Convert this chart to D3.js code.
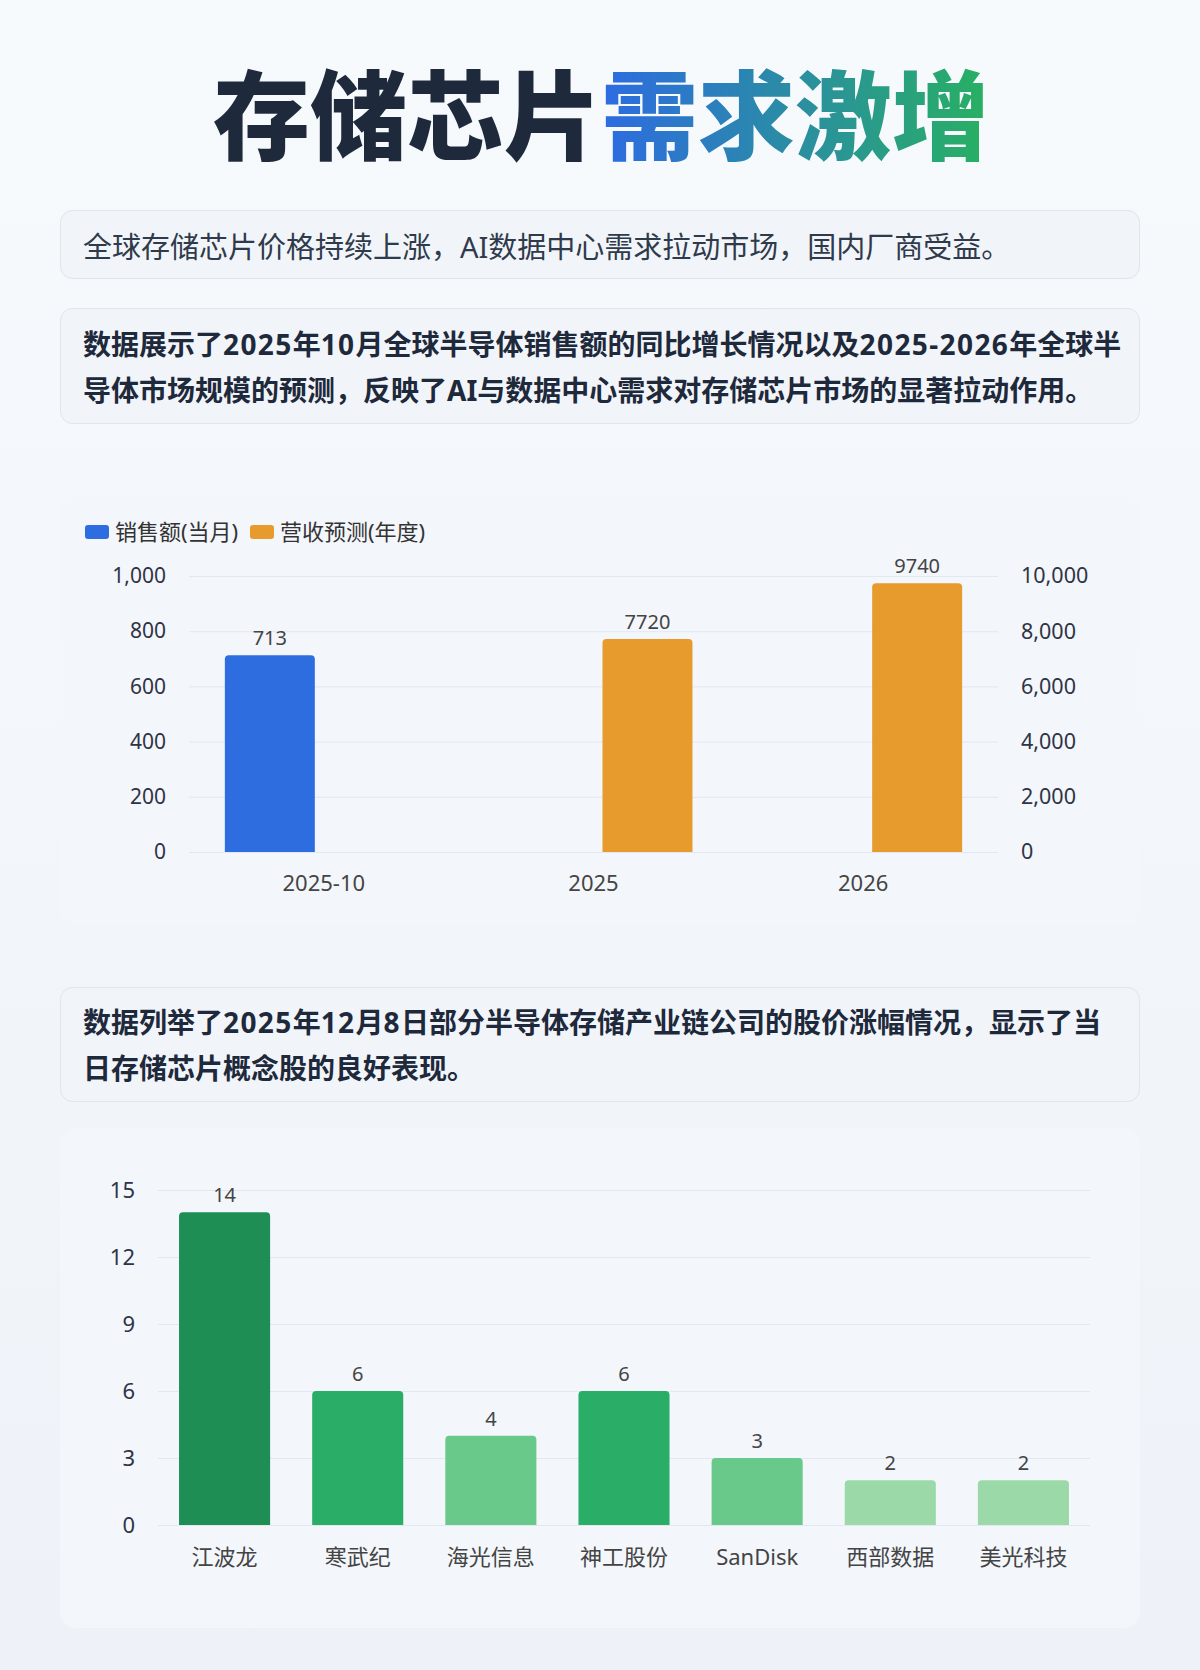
<!DOCTYPE html>
<html>
<head>
<meta charset="utf-8">
<script src="https://cdn.jsdelivr.net/npm/d3@7"></script>
<style>
  html, body { margin: 0; padding: 0; }
  body { width: 1200px; height: 1670px; overflow: hidden; font-family: "Noto Sans", "Noto Sans CJK SC", sans-serif; }
</style>
</head>
<body>
<div id="page"></div>
<script>
// ---- data ----
var titleDark = "存储芯片";
var titleAccent = "需求激增";
var summaryText = "全球存储芯片价格持续上涨，AI数据中心需求拉动市场，国内厂商受益。";
var noteOneLines = [
  "数据展示了2025年10月全球半导体销售额的同比增长情况以及2025-2026年全球半",
  "导体市场规模的预测，反映了AI与数据中心需求对存储芯片市场的显著拉动作用。"
];
var noteTwoLines = [
  "数据列举了2025年12月8日部分半导体存储产业链公司的股价涨幅情况，显示了当",
  "日存储芯片概念股的良好表现。"
];

var salesCategories = ["2025-10", "2025", "2026"];
var seriesNames = ["销售额(当月)", "营收预测(年度)"];
var monthlySales = [713, null, null];
var annualForecast = [null, 7720, 9740];
var leftTicks = [0, 200, 400, 600, 800, 1000];
var rightTicks = [0, 2000, 4000, 6000, 8000, 10000];

var companies = ["江波龙", "寒武纪", "海光信息", "神工股份", "SanDisk", "西部数据", "美光科技"];
var gains = [14, 6, 4, 6, 3, 2, 2];
var gainTicks = [0, 3, 6, 9, 12, 15];

// ---- setup ----
var width = 1200, height = 1670;
var fontStack = '"Noto Sans", "Noto Sans CJK SC", sans-serif';
var cjkStack = '"Noto Sans CJK SC", "Noto Sans", sans-serif';
var fmt = d3.format(",");

var svg = d3.select("#page").append("svg")
  .attr("width", width)
  .attr("height", height)
  .style("display", "block");

var defs = svg.append("defs");

var bg = defs.append("linearGradient").attr("id", "bg")
  .attr("x1", 0).attr("y1", 0).attr("x2", 0).attr("y2", 1);
bg.append("stop").attr("offset", "0%").attr("stop-color", "#f7fafd");
bg.append("stop").attr("offset", "100%").attr("stop-color", "#eef2f8");

var accent = defs.append("linearGradient").attr("id", "accent")
  .attr("gradientUnits", "userSpaceOnUse")
  .attr("x1", 601).attr("y1", 0).attr("x2", 988).attr("y2", 0);
accent.append("stop").attr("offset", "0%").attr("stop-color", "#2d6be2");
accent.append("stop").attr("offset", "100%").attr("stop-color", "#28b062");

svg.append("rect").attr("width", width).attr("height", height).attr("fill", "url(#bg)");

// ---- title ----
svg.append("text")
  .attr("x", 601).attr("y", 152)
  .attr("text-anchor", "end")
  .attr("font-family", cjkStack)
  .attr("font-size", 97)
  .attr("font-weight", 900)
  .attr("fill", "#1e293b")
  .text(titleDark);

svg.append("text")
  .attr("x", 601).attr("y", 152)
  .attr("text-anchor", "start")
  .attr("font-family", cjkStack)
  .attr("font-size", 97)
  .attr("font-weight", 900)
  .attr("fill", "url(#accent)")
  .text(titleAccent);

// ---- text boxes ----
function boxFrame(y, h) {
  svg.append("rect")
    .attr("x", 60.5).attr("y", y + 0.5)
    .attr("width", 1079).attr("height", h)
    .attr("rx", 12)
    .attr("fill", "#f1f5f9")
    .attr("stroke", "#dfe5ec");
}

// digits in the notes run a touch wider than the plain font
function addRuns(textSel, line) {
  var runs = line.match(/[0-9\-]+|[^0-9\-]+/g);
  runs.forEach(function(r) {
    var t = textSel.append("tspan").text(r);
    if (/^[0-9\-]+$/.test(r)) t.attr("letter-spacing", 1.4);
  });
}

boxFrame(210, 68);
svg.append("text")
  .attr("x", 83).attr("y", 258)
  .attr("font-family", fontStack)
  .attr("font-size", 29)
  .attr("fill", "#2f3a4b")
  .text(summaryText);

function noteBox(y, h, lines, firstBaseline) {
  boxFrame(y, h);
  lines.forEach(function(line, i) {
    var t = svg.append("text")
      .attr("x", 83)
      .attr("y", firstBaseline + i * 46)
      .attr("font-family", fontStack)
      .attr("font-size", 28)
      .attr("font-weight", 700)
      .attr("fill", "#1e293b");
    addRuns(t, line);
  });
}

noteBox(308, 115, noteOneLines, 355);
noteBox(987, 114, noteTwoLines, 1033);

// ---- cards ----
svg.append("rect")
  .attr("x", 60).attr("y", 495).attr("width", 1080).attr("height", 430)
  .attr("rx", 16).attr("fill", "#f3f6fb");

svg.append("rect")
  .attr("x", 60).attr("y", 1128).attr("width", 1080).attr("height", 500)
  .attr("rx", 16).attr("fill", "#f3f6fb");

function styleAxis(g, size, color) {
  g.select(".domain").remove();
  g.selectAll("text")
    .attr("font-family", fontStack)
    .attr("font-size", size)
    .attr("fill", color);
}

function topRoundedBar(x, y, w, h, r) {
  r = Math.min(r, h);
  return "M" + x + "," + (y + h) +
    "V" + (y + r) +
    "Q" + x + "," + y + " " + (x + r) + "," + y +
    "H" + (x + w - r) +
    "Q" + (x + w) + "," + y + " " + (x + w) + "," + (y + r) +
    "V" + (y + h) + "Z";
}

// ---- chart 1: sales ----
var c1 = { left: 189, right: 998, top: 576, bottom: 852 };
var salesColors = ["#2e6ddf", "#e69b2c"];

var x0 = d3.scaleBand()
  .domain(salesCategories)
  .range([c1.left, c1.right]);

var x1 = d3.scaleBand()
  .domain([0, 1])
  .range([0, x0.bandwidth()])
  .paddingInner(1 / 6)
  .paddingOuter(0.332);

var yLeft = d3.scaleLinear().domain([0, 1000]).range([c1.bottom, c1.top]);
var yRight = d3.scaleLinear().domain([0, 10000]).range([c1.bottom, c1.top]);

var leftAxis = svg.append("g")
  .attr("transform", `translate(${c1.left},0)`)
  .call(d3.axisLeft(yLeft).tickValues(leftTicks).tickFormat(fmt)
    .tickSize(-(c1.right - c1.left)).tickPadding(23));
styleAxis(leftAxis, 21, "#2e3445");
leftAxis.selectAll("line").attr("stroke", "#e2e7f1");

var rightAxis = svg.append("g")
  .attr("transform", `translate(${c1.right},0)`)
  .call(d3.axisRight(yRight).tickValues(rightTicks).tickFormat(fmt)
    .tickSize(0).tickPadding(23));
styleAxis(rightAxis, 21.5, "#2e3445");

var bottomAxis = svg.append("g")
  .attr("transform", `translate(0,${c1.bottom})`)
  .call(d3.axisBottom(x0).tickSize(0).tickPadding(23));
styleAxis(bottomAxis, 22, "#444");

var salesSeries = [
  { values: monthlySales, scale: yLeft },
  { values: annualForecast, scale: yRight }
];

salesSeries.forEach(function(s, si) {
  var pts = salesCategories
    .map((c, i) => ({ cat: c, v: s.values[i] }))
    .filter(d => d.v != null);

  var g = svg.append("g");

  g.selectAll("path")
    .data(pts)
    .enter()
    .append("path")
    .attr("fill", salesColors[si])
    .attr("d", d => {
      var bx = x0(d.cat) + x1(si);
      var by = s.scale(d.v);
      return topRoundedBar(bx, by, x1.bandwidth(), c1.bottom - by, 4);
    });

  g.selectAll("text")
    .data(pts)
    .enter()
    .append("text")
    .attr("x", d => x0(d.cat) + x1(si) + x1.bandwidth() / 2)
    .attr("y", d => s.scale(d.v) - 10)
    .attr("text-anchor", "middle")
    .attr("font-family", fontStack)
    .attr("font-size", 20)
    .attr("fill", "#444")
    .text(d => d.v);
});

// legend
var legend = svg.append("g").attr("transform", "translate(85,525)");
var legendX = [0, 165];
seriesNames.forEach(function(name, i) {
  legend.append("rect")
    .attr("x", legendX[i]).attr("y", 0)
    .attr("width", 24).attr("height", 14)
    .attr("rx", 3)
    .attr("fill", salesColors[i]);
  legend.append("text")
    .attr("x", legendX[i] + 30).attr("y", 15)
    .attr("font-family", fontStack)
    .attr("font-size", 22)
    .attr("fill", "#333")
    .text(name);
});

// ---- chart 2: gains ----
var c2 = { left: 158, right: 1090, top: 1190, bottom: 1525 };

var xc = d3.scaleBand()
  .domain(companies)
  .range([c2.left, c2.right])
  .paddingInner(0.316)
  .paddingOuter(0.158);

var yc = d3.scaleLinear().domain([0, 15]).range([c2.bottom, c2.top]);

var gainColor = d3.scaleThreshold()
  .domain([3, 5, 10])
  .range(["#9cd9a8", "#69c98a", "#2aad66", "#1e8e55"]);

var gainAxis = svg.append("g")
  .attr("transform", `translate(${c2.left},0)`)
  .call(d3.axisLeft(yc).tickValues(gainTicks)
    .tickSize(-(c2.right - c2.left)).tickPadding(23));
styleAxis(gainAxis, 22, "#2e3445");
gainAxis.selectAll("line").attr("stroke", "#e2e7f1");

var companyAxis = svg.append("g")
  .attr("transform", `translate(0,${c2.bottom})`)
  .call(d3.axisBottom(xc).tickSize(0).tickPadding(24));
styleAxis(companyAxis, 22, "#444");

var gainData = companies.map((c, i) => ({ name: c, v: gains[i] }));

svg.append("g").selectAll("path")
  .data(gainData)
  .enter()
  .append("path")
  .attr("fill", d => gainColor(d.v))
  .attr("d", d => topRoundedBar(xc(d.name), yc(d.v), xc.bandwidth(), c2.bottom - yc(d.v), 4));

svg.append("g").selectAll("text")
  .data(gainData)
  .enter()
  .append("text")
  .attr("x", d => xc(d.name) + xc.bandwidth() / 2)
  .attr("y", d => yc(d.v) - 10)
  .attr("text-anchor", "middle")
  .attr("font-family", fontStack)
  .attr("font-size", 20)
  .attr("fill", "#444")
  .text(d => d.v);
</script>
</body>
</html>
